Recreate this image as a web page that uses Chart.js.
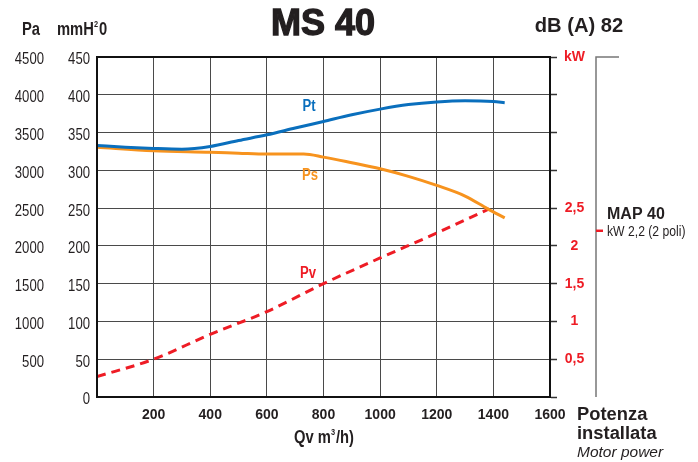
<!DOCTYPE html>
<html>
<head>
<meta charset="utf-8">
<script src="https://cdn.jsdelivr.net/npm/chart.js@4/dist/chart.umd.min.js"></script>
<style>
  body { margin: 0; background: #fff; }
  canvas { display: block; }
</style>
</head>
<body>
<canvas id="chart" width="698" height="462"></canvas>
<script>
// air flow (m3/h) and curves
const ptFlow = [0, 100, 200, 300, 400, 500, 600, 700, 800, 900, 1000, 1100, 1200, 1300, 1400, 1440];
const ptValues = [333, 330.7, 329, 328, 331.5, 339.5, 347, 356, 364.7, 373.5, 381, 387, 390.5, 392, 391, 389.5];

const psFlow = [0, 200, 400, 500, 600, 730, 800, 900, 1000, 1100, 1200, 1300, 1380, 1440];
const psValues = [330.7, 326, 324, 322.7, 321.5, 321.5, 317.5, 310, 302, 292, 280, 266, 249, 237];

const pvFlow = [0, 200, 400, 600, 800, 1000, 1200, 1385];
const pvValues = [0.27, 0.5, 0.83, 1.13, 1.5, 1.84, 2.17, 2.49];

const flowTicks = ['', '200', '400', '600', '800', '1000', '1200', '1400', '1600'];
const mmTicks = ['0', '50', '100', '150', '200', '250', '300', '350', '400', '450'];
const paTicks = ['', '500', '1000', '1500', '2000', '2500', '3000', '3500', '4000', '4500'];
const kwTicks = ['', '0,5', '1', '1,5', '2', '2,5', '', '', '', 'kW'];
const motorKw = 2.2;

const SANS = "'Liberation Sans', Arial, sans-serif";
const INK = '#231f20';
const BLUE = '#0a6fbd';
const ORANGE = '#f7931e';
const RED = '#ee1c25';

const toPoints = (xs, ys) => xs.map((x, i) => ({ x: x, y: ys[i] }));

// no narrow face installed, so squeeze Liberation Sans horizontally
function narrow(ctx, text, x, y, font, align, sx) {
  ctx.save();
  ctx.font = font;
  ctx.textAlign = align || 'left';
  ctx.translate(x, y);
  ctx.scale(sx || 0.82, 1);
  ctx.fillText(text, 0, 0);
  ctx.restore();
}
function narrowWidth(ctx, text, font, sx) {
  ctx.save();
  ctx.font = font;
  const w = ctx.measureText(text).width * (sx || 0.82);
  ctx.restore();
  return w;
}

const extras = {
  id: 'extras',
  afterDraw(chart) {
    const ctx = chart.ctx;
    const a = chart.chartArea;
    const sx = chart.scales.x, sy = chart.scales.y, sp = chart.scales.yPa, sk = chart.scales.yKW;
    ctx.save();

    // plot frame
    ctx.strokeStyle = '#111';
    ctx.lineWidth = 2;
    ctx.strokeRect(a.left, a.top, a.right - a.left, a.bottom - a.top);

    ctx.textBaseline = 'middle';
    ctx.fillStyle = INK;

    // left tick labels
    const tickFont = '16px ' + SANS;
    sy.ticks.forEach((t, i) => {
      narrow(ctx, mmTicks[i], 90, sy.getPixelForValue(t.value) + 3, tickFont, 'right');
    });
    sp.ticks.forEach((t, i) => {
      narrow(ctx, paTicks[i], 44, sp.getPixelForValue(t.value) + 3, tickFont, 'right');
    });

    // motor power rail
    const railX = a.right + 46;
    ctx.lineWidth = 1.5;
    ctx.strokeStyle = '#777';
    ctx.beginPath();
    ctx.moveTo(railX, a.bottom);
    ctx.lineTo(railX, a.top);
    ctx.lineTo(railX + 23, a.top);
    ctx.stroke();
    ctx.strokeStyle = RED;
    ctx.lineWidth = 2.5;
    const my = sk.getPixelForValue(motorKw);
    ctx.beginPath();
    ctx.moveTo(railX, my);
    ctx.lineTo(railX + 7, my);
    ctx.stroke();

    ctx.fillStyle = INK;
    ctx.textAlign = 'left';
    ctx.font = 'bold 16px ' + SANS;
    ctx.fillText('MAP 40', railX + 11, 215);
    narrow(ctx, 'kW 2,2 (2 poli)', railX + 11, 232, '14.5px ' + SANS, 'left', 0.84);

    narrow(ctx, 'Potenza', 577, 415, 'bold 18px ' + SANS, 'left', 1.02);
    narrow(ctx, 'installata', 577, 434, 'bold 18px ' + SANS, 'left', 1.02);
    ctx.font = 'italic 15.5px ' + SANS;
    ctx.fillText('Motor power', 577, 453);

    // headings
    const hf = 'bold 18px ' + SANS;
    narrow(ctx, 'Pa', 22, 30, hf);
    narrow(ctx, 'mmH', 57, 30, hf);
    const w = narrowWidth(ctx, 'mmH', hf);
    narrow(ctx, '2', 57 + w, 25, 'bold 9px ' + SANS);
    narrow(ctx, '0', 57 + w + 5, 30, hf);

    ctx.textAlign = 'center';
    ctx.font = 'bold 36px ' + SANS;
    ctx.strokeStyle = INK;
    ctx.lineWidth = 1.3;
    ctx.fillText('MS 40', 323, 25);
    ctx.strokeText('MS 40', 323, 25);
    narrow(ctx, 'dB (A) 82', 579, 26, 'bold 21px ' + SANS, 'center', 0.96);

    // flow axis title
    const af = 'bold 18px ' + SANS;
    const w1 = narrowWidth(ctx, 'Qv m', af), w2 = narrowWidth(ctx, '/h)', af);
    const x0 = 324 - (w1 + 5 + w2) / 2;
    narrow(ctx, 'Qv m', x0, 438, af);
    narrow(ctx, '3', x0 + w1, 433, 'bold 9px ' + SANS);
    narrow(ctx, '/h)', x0 + w1 + 5, 438, af);

    // curve names
    const cf = 'bold 16px ' + SANS;
    ctx.fillStyle = BLUE;
    narrow(ctx, 'Pt', sx.getPixelForValue(749), sy.getPixelForValue(385), cf, 'center');
    ctx.fillStyle = ORANGE;
    narrow(ctx, 'Ps', sx.getPixelForValue(752), sy.getPixelForValue(293), cf, 'center');
    ctx.fillStyle = RED;
    narrow(ctx, 'Pv', sx.getPixelForValue(745), sk.getPixelForValue(1.63), cf, 'center');

    ctx.restore();
  }
};

new Chart(document.getElementById('chart'), {
  type: 'line',
  data: {
    datasets: [
      { label: 'Pt', data: toPoints(ptFlow, ptValues), yAxisID: 'y', borderColor: BLUE, borderWidth: 3, cubicInterpolationMode: 'monotone', pointRadius: 0 },
      { label: 'Ps', data: toPoints(psFlow, psValues), yAxisID: 'y', borderColor: ORANGE, borderWidth: 3, cubicInterpolationMode: 'monotone', pointRadius: 0 },
      { label: 'Pv', data: toPoints(pvFlow, pvValues), yAxisID: 'yKW', borderColor: RED, borderWidth: 3, borderDash: [9, 6], cubicInterpolationMode: 'monotone', pointRadius: 0 }
    ]
  },
  options: {
    responsive: false,
    animation: false,
    layout: { padding: { top: 57, left: 0, right: 0, bottom: 0 } },
    plugins: { legend: { display: false }, tooltip: { enabled: false } },
    scales: {
      x: {
        type: 'linear', min: 0, max: 1600,
        grid: { color: '#4a4a4a', lineWidth: 1, drawTicks: false },
        border: { display: false },
        ticks: { stepSize: 200, padding: 10, color: INK, font: { family: SANS, size: 14, weight: 'bold' },
          callback: (v, i) => flowTicks[i] },
        afterFit: s => { s.height = 65; }
      },
      y: {
        position: 'left', weight: 0, min: 0, max: 450,
        grid: { color: '#4a4a4a', lineWidth: 1, drawTicks: false },
        border: { display: false },
        ticks: { stepSize: 50, display: false },
        afterFit: s => { s.width = 47; }
      },
      yPa: {
        position: 'left', weight: 1, min: 0, max: 4500,
        grid: { display: false },
        border: { display: false },
        ticks: { stepSize: 500, display: false },
        afterFit: s => { s.width = 50; }
      },
      yKW: {
        position: 'right', min: 0, max: 4.5,
        grid: { drawOnChartArea: false, drawTicks: true, tickLength: 7, tickColor: '#333', tickWidth: 1.5 },
        border: { display: true, color: '#111', width: 2 },
        ticks: { stepSize: 0.5, padding: 7, crossAlign: 'center', color: RED, font: { family: SANS, size: 14, weight: 'bold' },
          callback: (v, i) => kwTicks[i] },
        afterFit: s => { s.width = 148; }
      }
    }
  },
  plugins: [extras]
});
</script>
</body>
</html>
